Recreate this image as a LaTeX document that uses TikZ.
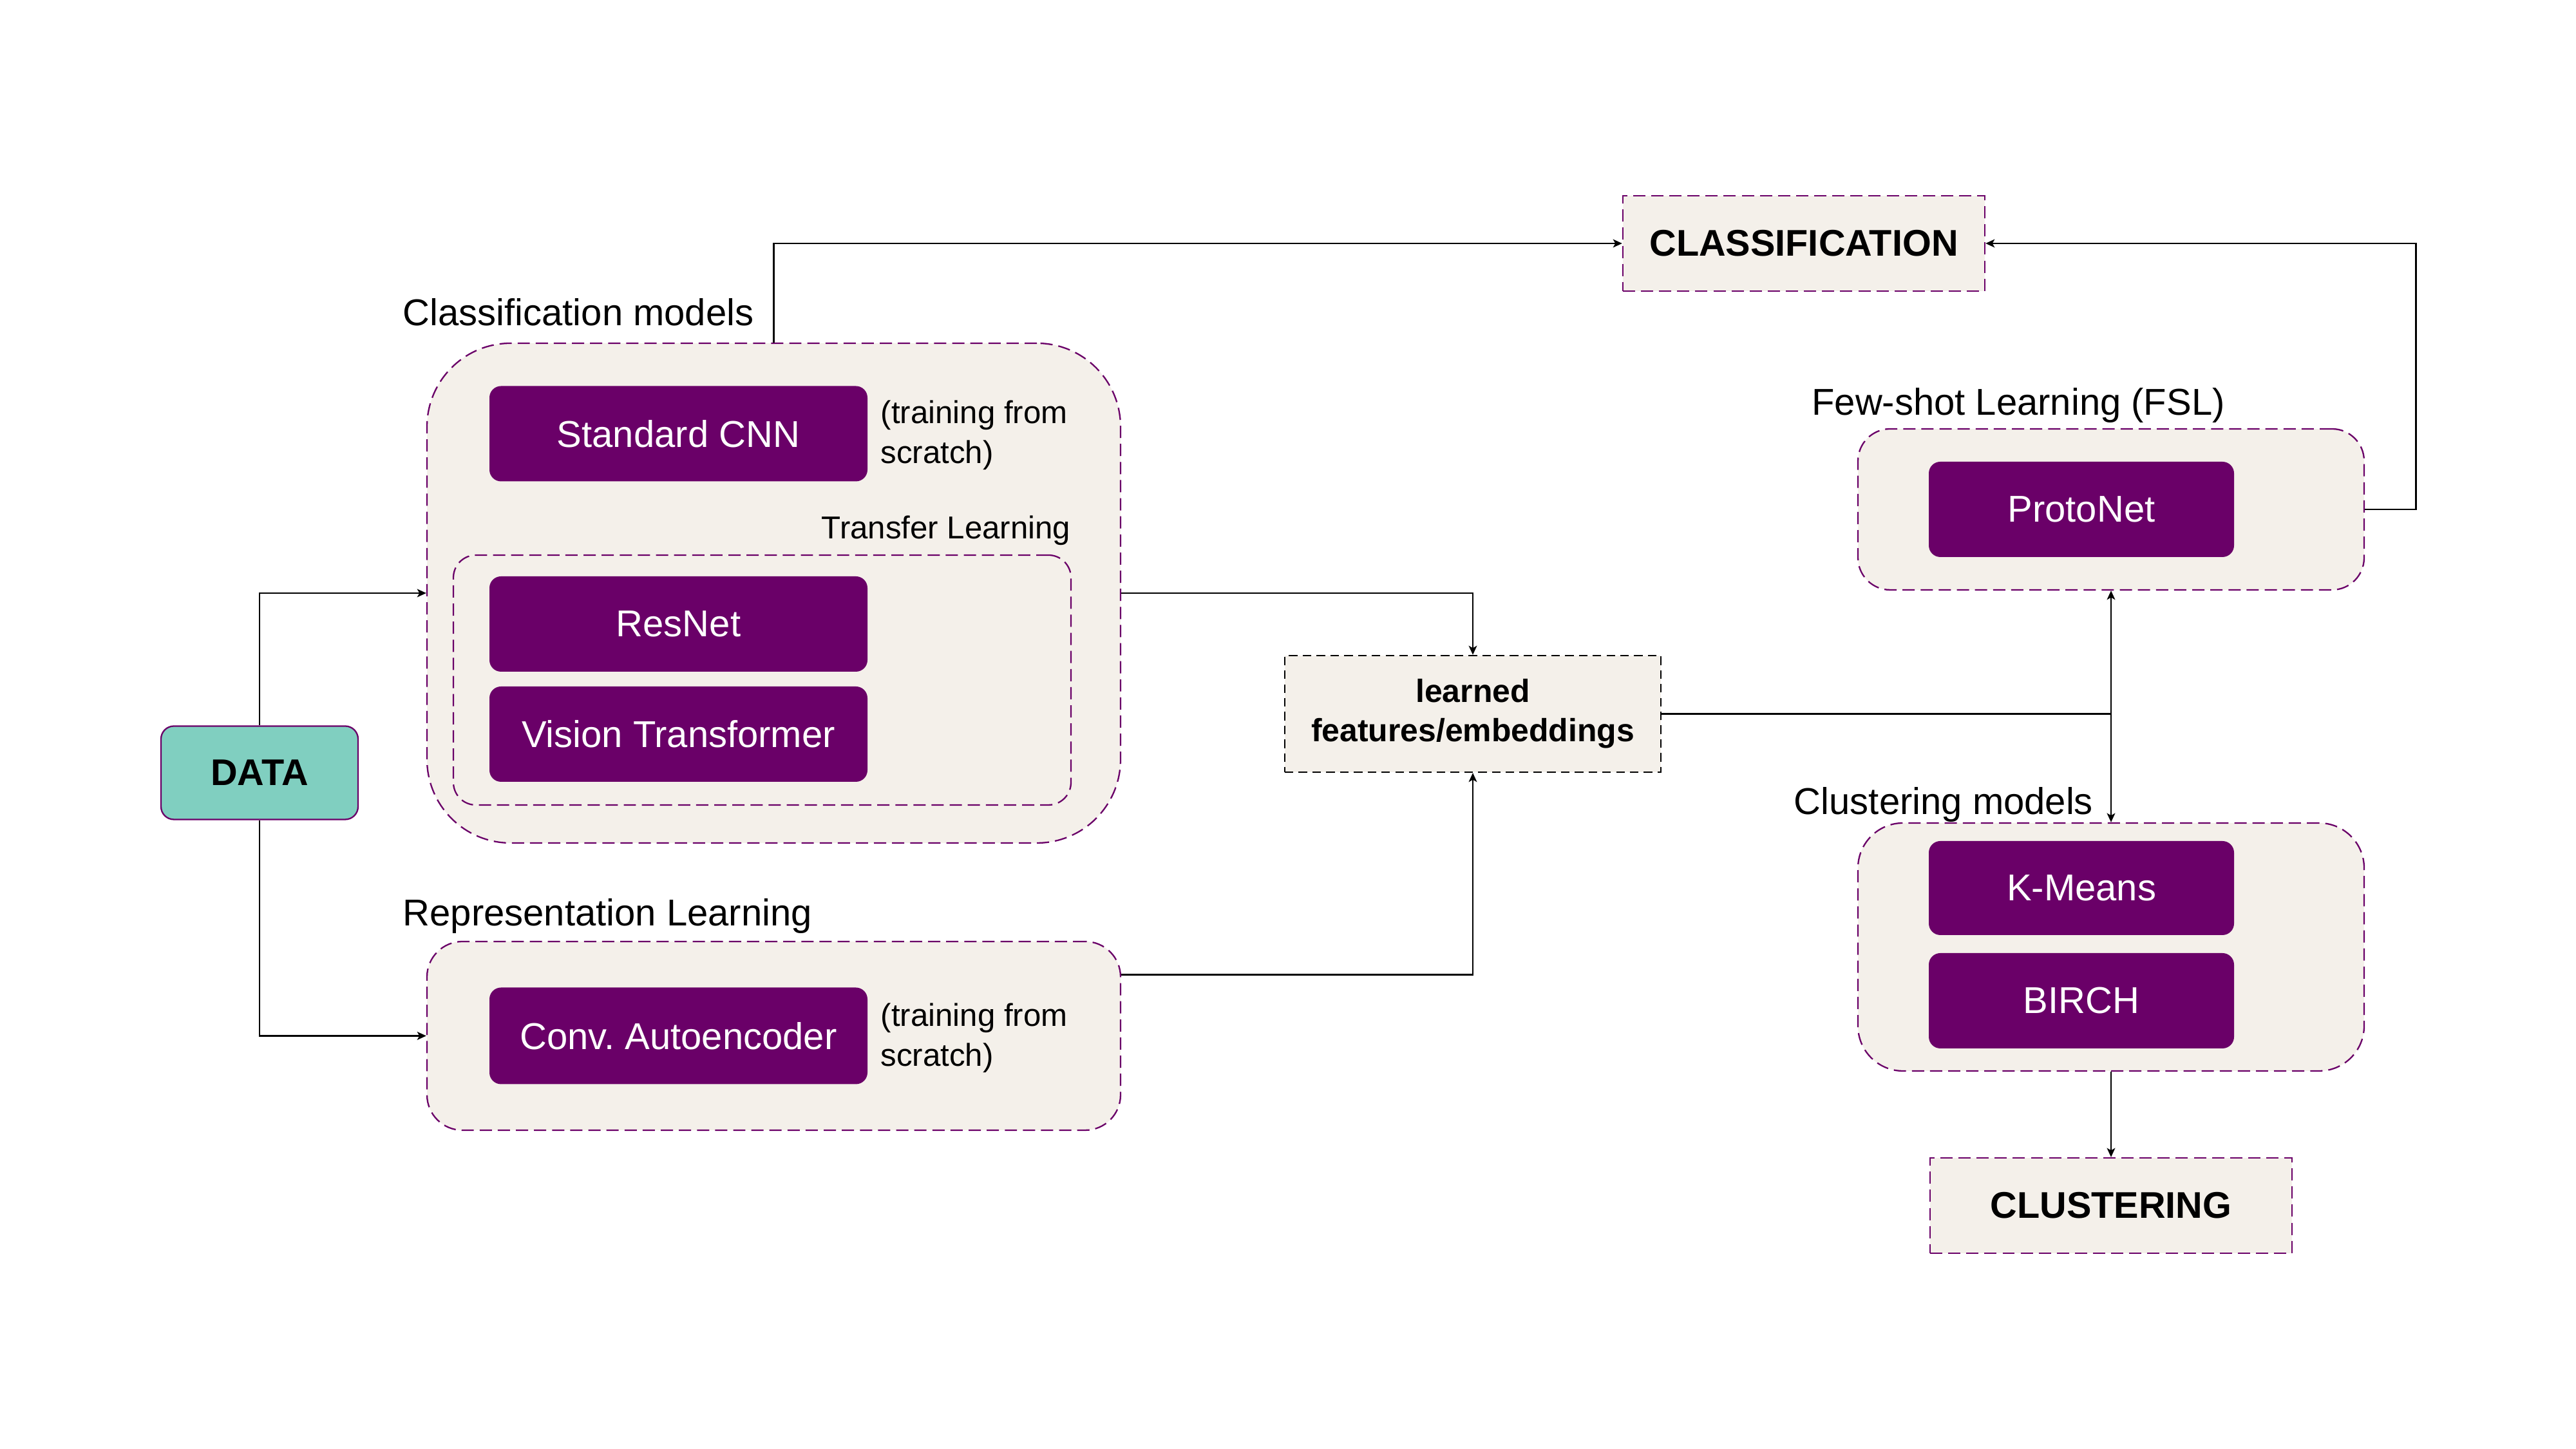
\documentclass[tikz,border=0pt]{standalone}
\usepackage{fontspec}
\setmainfont{Liberation Sans}
\usepackage{tikz}
\usetikzlibrary{arrows.meta}
\definecolor{plum}{RGB}{106,0,104}
\definecolor{beige}{RGB}{244,240,234}
\definecolor{teal}{RGB}{128,207,192}
\newcommand{\bigtxt}{\fontsize{16.5}{19.8}\selectfont}
\newcommand{\smalltxt}{\fontsize{14}{17.6}\selectfont}

\begin{document}
\begin{tikzpicture}[model/.style={rectangle,rounded corners=0.18cm,fill=plum,text=white,
      minimum width=5.87cm,minimum height=1.48cm,font=\bigtxt},
    grp/.style={rectangle,draw=plum,fill=beige,line width=0.65pt,dash pattern=on 5.4pt off 2.6pt},
    target/.style={grp,minimum width=5.62cm,minimum height=1.48cm,font=\fontsize{16.4}{19.5}\selectfont\bfseries},
    caption/.style={font=\bigtxt,inner sep=0pt},
    note/.style={font=\smalltxt,align=left,inner sep=0pt},
    link/.style={line width=0.8pt,-{Stealth[length=4pt,width=3.6pt,inset=1pt]}}]
 \useasboundingbox (0,0) rectangle (40,22.5);
 \node[grp,rounded corners=1.3cm,minimum width=10.77cm,minimum height=7.76cm] (cls) at (12.015,13.29) {};
 \node[grp,rounded corners=0.35cm,minimum width=9.59cm,minimum height=3.88cm] (tl) at (11.835,11.94) {};
 \node[grp,rounded corners=0.55cm,minimum width=10.77cm,minimum height=2.93cm] (rep) at (12.015,6.415) {};
 \node[grp,rounded corners=0.5cm,minimum width=7.86cm,minimum height=2.5cm] (fsl) at (32.78,14.59) {};
 \node[grp,rounded corners=0.7cm,minimum width=7.86cm,minimum height=3.85cm] (clu) at (32.78,7.795) {};

 \node[caption,anchor=west] at (6.25,17.65) {Classification models};
 \node[note,anchor=east] at (16.63,14.26) {Transfer Learning};
 \node[caption,anchor=west] at (6.25,8.27) {Representation Learning};
 \node[caption] at (31.34,16.2) {Few-shot Learning (FSL)};
 \node[caption] at (30.18,10.0) {Clustering models};

 \node[model] (cnn) at (10.535,15.765) {Standard CNN};
 \node[note,anchor=west] at (13.67,15.74) {(training from\\scratch)};
 \node[model] (resnet) at (10.535,12.81) {ResNet};
 \node[model] (vit) at (10.535,11.1) {Vision Transformer};
 \node[model,minimum height=1.5cm] (cae) at (10.535,6.415) {Conv.\ Autoencoder};
 \node[note,anchor=west] at (13.67,6.38) {(training from\\scratch)};
 \node[model,minimum width=4.74cm] (proto) at (32.32,14.59) {ProtoNet};
 \node[model,minimum width=4.74cm,minimum height=1.46cm] (kmeans) at (32.32,8.71) {K-Means};
 \node[model,minimum width=4.74cm] (birch) at (32.32,6.96) {BIRCH};

 \node[rectangle,rounded corners=0.2cm,draw=plum,line width=0.65pt,fill=teal,minimum width=3.06cm,
    minimum height=1.45cm,font=\fontsize{16.4}{19.5}\selectfont\bfseries] (data) at (4.03,10.5) {DATA};
 \node[rectangle,draw=black,fill=beige,line width=0.65pt,dash pattern=on 3.8pt off 2.3pt,
    minimum width=5.84cm,minimum height=1.81cm,align=center,
    font=\fontsize{14.2}{17.4}\selectfont\bfseries] (emb) at (22.87,11.415) {learned\\features/embeddings};
 \node[target] (classif) at (28.01,18.72) {CLASSIFICATION};
 \node[target] (clust) at (32.78,3.78) {CLUSTERING};

 \draw[link] (data.north) |- (cls.west);
 \draw[link] (data.south) |- (rep.west);
 \draw[link] (cls.north) |- (classif.west);
 \draw[link] (cls.east) -| (emb.north);
 \draw[link] (rep.10) -| (emb.south);
 \draw[link] (emb.east) -| (fsl.south);
 \draw[link] (emb.east) -| (clu.north);
 \draw[link] (fsl.east) -- ++(0.79,0) |- (classif.east);
 \draw[link] (clu.south) -- (clust.north);
\end{tikzpicture}
\end{document}
